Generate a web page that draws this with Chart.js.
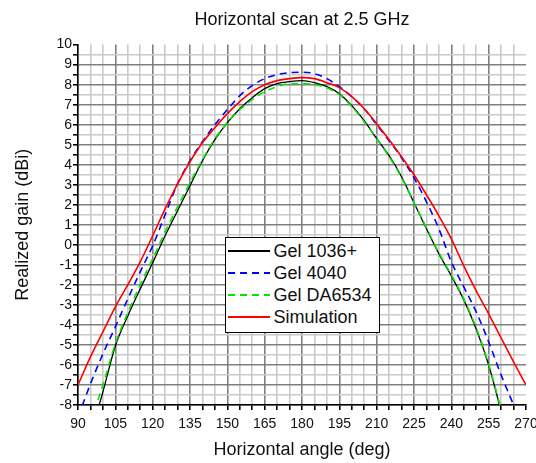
<!DOCTYPE html>
<html>
<head>
<meta charset="utf-8">
<title>Horizontal scan at 2.5 GHz</title>
<script src="https://cdn.jsdelivr.net/npm/chart.js@4"></script>
<style>
    html, body { margin: 0; padding: 0; background: #ffffff; }
    #wrap { position: relative; width: 536px; height: 463px; }
    #legend {
        position: absolute; left: 225px; top: 237px; width: 155px; height: 96px;
        box-sizing: border-box; border: 1.5px solid #000; background: #fff;
        padding-top: 2px; font-family: "Liberation Sans", Arial, sans-serif;
        font-size: 18px; color: #111;
    }
    .row { display: flex; align-items: center; height: 22px; }
    .row svg { margin-left: 1.5px; flex: none; }
    .row span { margin-left: 4px; white-space: nowrap; }
</style>
</head>
<body>
<div id="wrap">
    <canvas id="gainChart" width="536" height="463"></canvas>
    <div id="legend"></div>
</div>
<script>
// Horizontal angle (deg), one sample every 5 degrees
const angles = [90, 95, 100, 105, 110, 115, 120, 125, 130, 135, 140, 145, 150, 155, 160, 165, 170, 175, 180,
    185, 190, 195, 200, 205, 210, 215, 220, 225, 230, 235, 240, 245, 250, 255, 260, 265, 270];

// Realized gain (dBi)
const gel1036 = [-11.8, -9.5, -7.35, -5.05, -3.55, -2.2, -0.9, 0.45, 1.7, 2.95, 4.2, 5.25, 6.1, 6.8, 7.35, 7.8, 8.05, 8.15, 8.2,
    8.1, 7.9, 7.55, 6.95, 6.2, 5.3, 4.45, 3.4, 2.1, 0.8, -0.45, -1.55, -2.75, -4.2, -6.0, -8.3, -10.5, -12.7];
const gel4040 = [-8.6, -6.95, -5.45, -4.1, -2.7, -1.35, -0.05, 1.5, 3.05, 4.2, 5.15, 6.0, 6.75, 7.45, 7.95, 8.3, 8.5, 8.6, 8.62,
    8.55, 8.3, 7.9, 7.4, 6.8, 6.0, 5.2, 4.35, 3.35, 2.15, 0.8, -0.85, -2.1, -3.35, -4.85, -6.5, -8.0, -9.6];
const gelDA6534 = [-11.2, -8.9, -7.0, -4.95, -3.4, -2.0, -0.7, 0.65, 1.9, 3.1, 4.25, 5.3, 6.1, 6.75, 7.25, 7.65, 7.9, 8.05, 8.05,
    8.0, 7.85, 7.5, 6.9, 6.15, 5.3, 4.4, 3.35, 2.1, 0.85, -0.4, -1.5, -2.7, -4.15, -5.95, -8.2, -10.4, -12.6];
const simulation = [-7.0, -5.6, -4.35, -3.1, -2.0, -0.85, 0.45, 1.8, 3.05, 4.15, 5.1, 5.85, 6.55, 7.15, 7.65, 8.0, 8.2, 8.3, 8.35,
    8.3, 8.1, 7.85, 7.4, 6.8, 6.05, 5.25, 4.4, 3.5, 2.5, 1.45, 0.3, -1.05, -2.3, -3.45, -4.65, -5.85, -7.0];

const seriesNames = ["Gel 1036+", "Gel 4040", "Gel DA6534", "Simulation"];
const seriesColors = ["#000000", "#0000ff", "#00e600", "#ff0000"];
const seriesDashes = [[], [7, 5], [7, 5], []];

const xTicks = { min: 90, max: 270, step: 5, labelEvery: 15 };
const yTicks = { min: -8, max: 10, step: 0.5 };

document.addEventListener("DOMContentLoaded", function () {
    const ctx = document.getElementById("gainChart").getContext("2d");
    const font = "'Liberation Sans', Arial, sans-serif";
    const values = [gel1036, gel4040, gelDA6534, simulation];

    // pair the angles with each series
    function toPoints(arr) {
        return arr.map((v, i) => ({ x: angles[i], y: v }));
    }

    const datasets = values.map((arr, i) => ({
        label: seriesNames[i],
        data: toPoints(arr),
        borderColor: seriesColors[i],
        borderDash: seriesDashes[i],
        borderWidth: i === 0 ? 1.3 : 1.6,
        pointRadius: 0,
        cubicInterpolationMode: "monotone",
        fill: false,
        order: 4 - i, // simulation drawn last
    }));

    const major = "#7f7f7f";
    const minor = "#cacaca";

    new Chart(ctx, {
        type: "line",
        data: { datasets: datasets },
        options: {
            responsive: false,
            animation: false,
            devicePixelRatio: 1,
            layout: { padding: { left: 0, right: 10, top: 0, bottom: 0 } },
            plugins: {
                legend: { display: false },
                tooltip: { enabled: false },
                title: {
                    display: true,
                    fullSize: false,
                    text: "Horizontal scan at 2.5 GHz",
                    color: "#111",
                    font: { family: font, size: 18, weight: "normal" },
                    padding: { top: 9, bottom: 14 },
                },
            },
            scales: {
                x: {
                    type: "linear",
                    min: xTicks.min,
                    max: xTicks.max,
                    ticks: {
                        stepSize: xTicks.step,
                        autoSkip: false,
                        maxRotation: 0,
                        color: "#111",
                        padding: 6,
                        font: { family: font, size: 14 },
                        callback: (v) => (v % xTicks.labelEvery === 0 ? v : ""),
                    },
                    grid: {
                        color: (c) => {
                            const v = c.tick ? c.tick.value : 0;
                            if (v === xTicks.max) return "rgba(0,0,0,0)";
                            return v % xTicks.labelEvery === 0 ? major : minor;
                        },
                        lineWidth: 1.6,
                        tickColor: "#000",
                        tickLength: 5,
                    },
                    border: { color: "#000", width: 1.5 },
                    title: {
                        display: true,
                        text: "Horizontal angle (deg)",
                        color: "#111",
                        font: { family: font, size: 18 },
                        padding: { top: 0, bottom: 2 },
                    },
                    afterFit: (s) => {
                        s.height = 58;
                        s.paddingLeft = 0;
                        s.paddingRight = 0;
                    },
                },
                y: {
                    min: yTicks.min,
                    max: yTicks.max,
                    ticks: {
                        stepSize: yTicks.step,
                        autoSkip: false,
                        color: "#111",
                        padding: 1,
                        font: { family: font, size: 14 },
                        callback: (v) => (Number.isInteger(v) ? v : ""),
                    },
                    grid: {
                        color: (c) => {
                            const v = c.tick ? c.tick.value : 0;
                            if (v === yTicks.max) return "rgba(0,0,0,0)";
                            return Number.isInteger(v) ? major : minor;
                        },
                        lineWidth: 1.6,
                        tickColor: "#000",
                        tickLength: 5,
                    },
                    border: { color: "#000", width: 1.5 },
                    title: {
                        display: true,
                        text: "Realized gain (dBi)",
                        color: "#111",
                        font: { family: font, size: 18 },
                        padding: { top: 12, bottom: 0 },
                    },
                    afterFit: (s) => {
                        s.width = 78;
                    },
                },
            },
        },
    });

    // legend box drawn as html, same order as the reference
    const legend = document.getElementById("legend");
    seriesNames.forEach((name, i) => {
        const dash = seriesDashes[i].length ? ` stroke-dasharray="${seriesDashes[i].join(" ")}"` : "";
        legend.insertAdjacentHTML("beforeend",
            `<div class="row"><svg width="42" height="22"><line x1="0" y1="11" x2="42" y2="11" stroke="${seriesColors[i]}" stroke-width="1.8"${dash}/></svg><span>${name}</span></div>`);
    });
});
</script>
</body>
</html>
